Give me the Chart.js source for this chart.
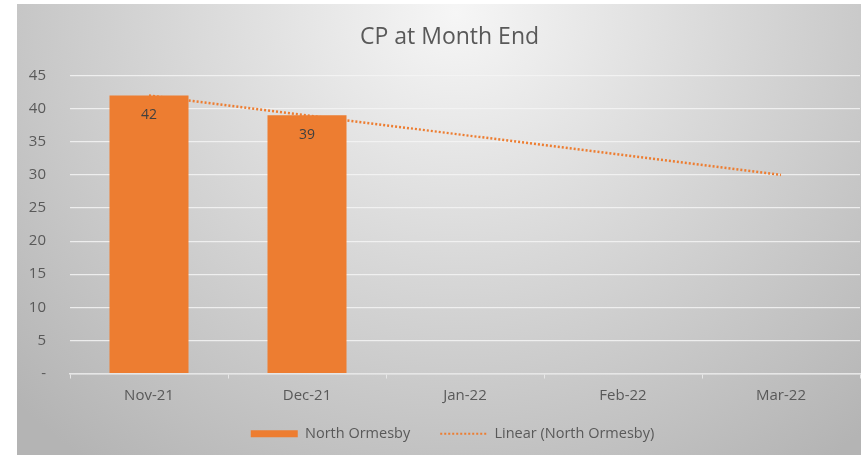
<!DOCTYPE html>
<html>
<head>
<meta charset="utf-8">
<script src="https://cdn.jsdelivr.net/npm/chart.js@4.4.1/dist/chart.umd.min.js"></script>
<style>
  html, body { margin: 0; padding: 0; background: #fff; }
  #wrap {
    position: absolute; left: 17px; top: 4px; width: 844px; height: 451px;
    background: radial-gradient(ellipse 72% 125% at 52% 2%, #f6f6f6 0%, #d8d8d8 45%, #b4b4b4 100%);
  }
</style>
</head>
<body>
<div id="wrap"><canvas id="chart"></canvas></div>
<script>
// data
const months      = ['Nov-21', 'Dec-21', 'Jan-22', 'Feb-22', 'Mar-22'];
const cpValues    = [42, 39, null, null, null];
const trendValues = [42, null, null, null, 30];   // Excel linear trend ends
const yTicks      = [0, 5, 10, 15, 20, 25, 30, 35, 40, 45];

const ORANGE = '#ED7D31';
const TEXT   = '#595959';
const GRID   = 'rgba(245,245,245,0.85)';
const FONT   = '"Open Sans", sans-serif';

// labels inside top of bars
const barLabels = {
  id: 'barLabels',
  afterDatasetsDraw(chart){
    const ctx = chart.ctx;
    const meta = chart.getDatasetMeta(0);
    ctx.save();
    ctx.font = '14px ' + FONT;
    ctx.fillStyle = '#404040';
    ctx.textAlign = 'center';
    ctx.textBaseline = 'middle';
    meta.data.forEach((bar, i)=>{
      const v = cpValues[i];
      if(v == null) return;
      ctx.fillText(String(v), bar.x, bar.y + 20);
    });
    ctx.restore();
  }
};

// small nudges: title a bit right, legend up and right (like the Excel layout)
const nudge = {
  id: 'nudge',
  afterLayout(chart){
    if(chart.titleBlock){ chart.titleBlock.left += 8; chart.titleBlock.right += 8; }
    if(chart.legend){
      chart.legend.top -= 16; chart.legend.bottom -= 16;
      chart.legend.left += 11; chart.legend.right += 11;
    }
  }
};

new Chart(document.getElementById('chart'), {
  data: {
    labels: months,
    datasets: [
      {
        type: 'bar',
        label: 'North Ormesby',
        data: cpValues,
        backgroundColor: ORANGE,
        barPercentage: 0.5,
        categoryPercentage: 1,
        order: 1
      },
      {
        type: 'line',
        label: 'Linear (North Ormesby)',
        data: trendValues,
        borderColor: ORANGE,
        backgroundColor: ORANGE,
        borderWidth: 2.5,
        borderDash: [2, 2],
        pointRadius: 0,
        spanGaps: true,
        fill: false,
        order: 2
      }
    ]
  },
  options: {
    responsive: true,
    maintainAspectRatio: false,
    animation: false,
    layout: { padding: { left: 6, right: 1, top: 0, bottom: -12 } },
    plugins: {
      title: {
        display: true,
        text: 'CP at Month End',
        color: TEXT,
        font: { family: FONT, size: 23, weight: 'normal' },
        padding: { top: 20, bottom: 24 }
      },
      legend: {
        position: 'bottom',
        labels: {
          color: TEXT,
          font: { family: FONT, size: 14.5 },
          usePointStyle: true,
          pointStyleWidth: 47,
          boxHeight: 7,
          padding: 30,
          generateLabels(chart){
            const items = Chart.defaults.plugins.legend.labels.generateLabels(chart);
            items[0].pointStyle = 'rect';
            items[1].pointStyle = 'line';
            items[1].lineWidth = 2;
            items[1].lineDash = [2, 2];
            return items;
          }
        }
      },
      tooltip: { enabled: false }
    },
    scales: {
      x: {
        offset: true,
        grid: { offset: true, drawOnChartArea: false, drawTicks: true, tickLength: 5, color: '#e6e6e6' },
        border: { display: true, color: '#e6e6e6', width: 1.5 },
        ticks: { color: TEXT, font: { family: FONT, size: 15 }, padding: 8 }
      },
      y: {
        min: 0,
        max: 45,
        afterFit(scale){ scale.width = 47; },
        afterBuildTicks(scale){ scale.ticks = yTicks.map(v => ({ value: v })); },
        grid: { color: GRID, lineWidth: 1.2, drawTicks: false },
        border: { display: false },
        ticks: {
          color: TEXT,
          font: { family: FONT, size: 15 },
          padding: 24,
          callback: v => v === 0 ? '-' : v
        }
      }
    }
  },
  plugins: [barLabels, nudge]
});
</script>
</body>
</html>
